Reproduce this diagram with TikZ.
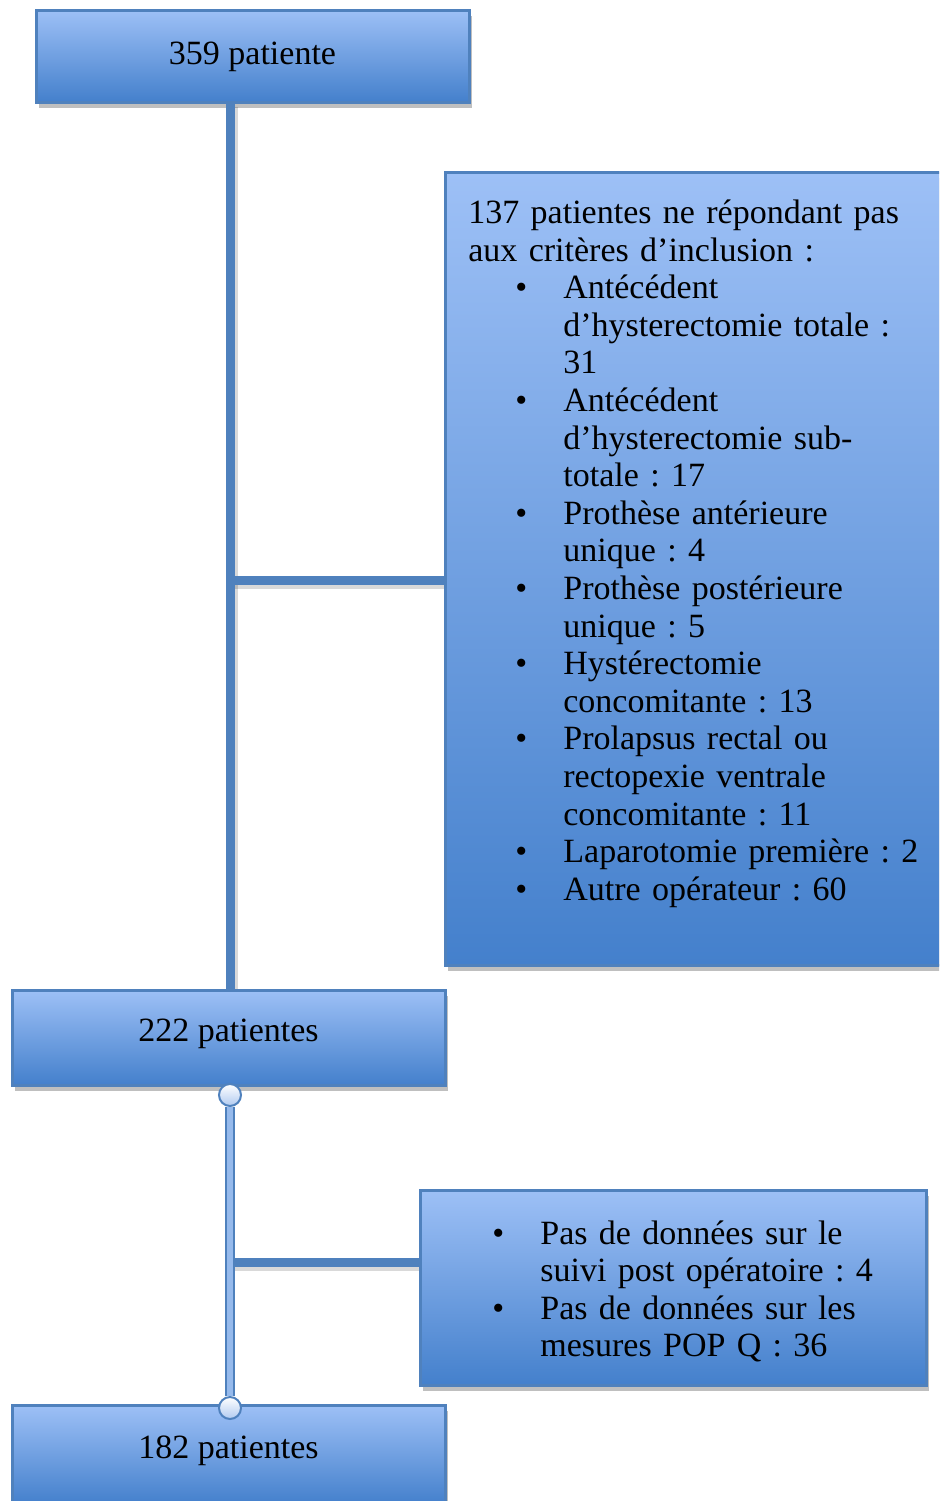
\documentclass[tikz,border=0pt]{standalone}
\usepackage{fontspec}
\setmainfont{Liberation Serif}
\usepackage{enumitem}
\usetikzlibrary{positioning,calc,shadows}

\definecolor{boxtop}{RGB}{157,192,246}
\definecolor{boxbot}{RGB}{68,128,204}
\definecolor{boxline}{RGB}{79,129,189}
\definecolor{linkfill}{RGB}{150,186,236}
\definecolor{knobfill}{RGB}{176,202,240}

\tikzset{
  flowbox/.style={draw=boxline, line width=1.5pt, top color=boxtop, bottom color=boxbot,
    drop shadow={shadow xshift=1.5pt, shadow yshift=-3pt, fill=black, opacity=.25},
    inner sep=0pt, font=\fontsize{17}{18.8}\selectfont, text height=12pt, text depth=8pt},
  listtext/.style={anchor=north west, inner sep=0pt, align=left,
    font=\fontsize{17}{18.8}\selectfont},
  link/.style={draw=boxline, line width=4.5pt},
  linkshadow/.style={draw=black, opacity=.15, line width=4.5pt},
  thinlink/.style={draw=boxline, line width=1pt, double=linkfill, double distance=3pt},
  knob/.style={circle, draw=boxline, line width=1pt, inner sep=0pt, minimum size=11pt,
    top color=white, bottom color=knobfill}
}
\setlist[itemize]{leftmargin=47.5pt, labelsep=18pt, topsep=0pt, itemsep=0pt,
  parsep=0pt, partopsep=0pt}
\frenchspacing

\begin{document}
\begin{tikzpicture}[x=0.5pt, y=-0.5pt]
  \useasboundingbox (0,0) rectangle (939,1501);
  \clip (0,0) rectangle (939,1501);

  % boxes
  \node[flowbox, minimum width=216.5pt, minimum height=46pt, text depth=4pt] (n359) at (252.5,56) {359 patiente};
  \node[flowbox, minimum width=250pt, minimum height=396.5pt] (excl) at (695,568.5) {};
  \node[flowbox, minimum width=216.5pt, minimum height=47.5pt] (n222) at (228.5,1037.5) {222 patientes};
  \node[flowbox, minimum width=253pt, minimum height=97.5pt] (lost) at (673,1287.5) {};
  \node[flowbox, minimum width=216.5pt, minimum height=49.5pt] (n182) at (228.5,1454.5) {182 patientes};

  % texts of the side boxes
  \node[listtext, text width=235pt] (excltext) at (468,195) {%
    \rule{0pt}{14pt}137 patientes ne répondant pas\\
    aux critères d’inclusion :
    \begin{itemize}
      \item Antécédent\\ d’hysterectomie totale :\\ 31
      \item Antécédent\\ d’hysterectomie sub-\\totale : 17
      \item Prothèse antérieure\\ unique : 4
      \item Prothèse postérieure\\ unique : 5
      \item Hystérectomie\\ concomitante : 13
      \item Prolapsus rectal ou\\ rectopexie ventrale\\ concomitante : 11
      \item Laparotomie première : 2
      \item Autre opérateur : 60
    \end{itemize}};
  \node[listtext, text width=235pt] (losttext) at (445,1206) {%
    \begin{itemize}
      \item \rule{0pt}{14pt}Pas de données sur le\\ suivi post opératoire : 4
      \item Pas de données sur les\\ mesures POP Q : 36
    \end{itemize}};

  % first connector
  \coordinate (j1) at (230,580);
  \draw[linkshadow] ($(n359.south -| j1)+(3,3)$) -- ($(n222.north -| j1)+(3,0)$);
  \draw[linkshadow] ($(j1)+(3,4)$) -- ($(j1 -| excl.west)+(0,4)$);
  \draw[link] (n359.south -| j1) -- (n222.north -| j1);
  \draw[link] (j1) -- (j1 -| excl.west);

  % second connector
  \coordinate (j2) at (230,1262);
  \draw[linkshadow] ($(j2)+(3,4)$) -- ($(j2 -| lost.west)+(0,4)$);
  \draw[link] (j2) -- (j2 -| lost.west);
  \node[knob] (knobA) at (230,1095) {};
  \node[knob] (knobB) at (230,1408) {};
  \draw[thinlink] (knobA) -- (knobB);
\end{tikzpicture}
\end{document}
